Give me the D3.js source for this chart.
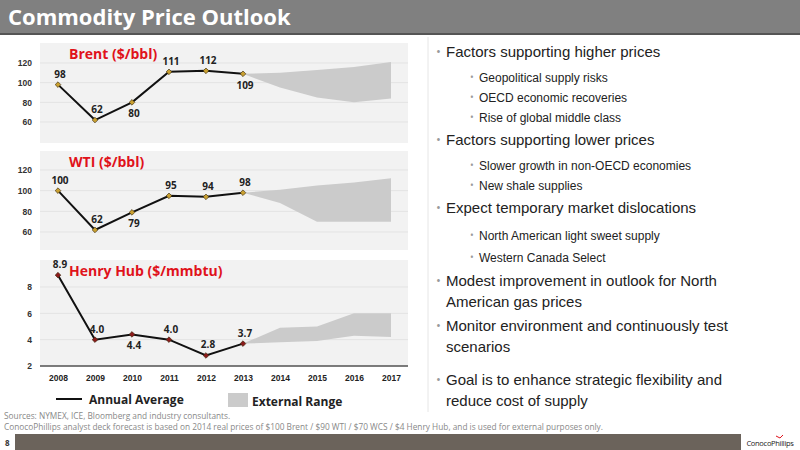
<!DOCTYPE html>
<html><head><meta charset="utf-8">
<script src="https://cdn.jsdelivr.net/npm/d3@7"></script>
<style>body{margin:0;background:#fff}svg{display:block;font-family:"Open Sans",sans-serif}</style>
</head><body>
<script>
const years = [2008, 2009, 2010, 2011, 2012, 2013, 2014, 2015, 2016, 2017];
const histYears = [2008, 2009, 2010, 2011, 2012, 2013];
const rangeYears = [2013, 2014, 2015, 2016, 2017];

const brent = [98, 62, 80, 111, 112, 109];
const brentLabelPos = ["a", "a", "b", "a", "a", "b"];
const brentHigh = [109, 110, 113, 116, 121];
const brentLow = [109, 95, 85, 80, 84];

const wti = [100, 62, 79, 95, 94, 98];
const wtiLabelPos = ["a", "a", "b", "a", "a", "a"];
const wtiHigh = [98, 101, 105, 108, 112];
const wtiLow = [98, 88, 70, 70, 70];

const hh = [8.9, 4.0, 4.4, 4.0, 2.8, 3.7];
const hhLabels = ["8.9", "4.0", "4.4", "4.0", "2.8", "3.7"];
const hhLabelPos = ["a", "a", "b", "a", "a", "a"];
const hhHigh = [3.7, 4.9, 5.0, 6.0, 6.0];
const hhLow = [3.7, 3.8, 3.9, 4.3, 4.2];

const bullets = [
  {lvl: 1, lines: ["Factors supporting higher prices"], y: 57},
  {lvl: 2, lines: ["Geopolitical supply risks"], y: 82},
  {lvl: 2, lines: ["OECD economic recoveries"], y: 102},
  {lvl: 2, lines: ["Rise of global middle class"], y: 122},
  {lvl: 1, lines: ["Factors supporting lower prices"], y: 145},
  {lvl: 2, lines: ["Slower growth in non-OECD economies"], y: 170},
  {lvl: 2, lines: ["New shale supplies"], y: 190},
  {lvl: 1, lines: ["Expect temporary market dislocations"], y: 213},
  {lvl: 2, lines: ["North American light sweet supply"], y: 240},
  {lvl: 2, lines: ["Western Canada Select"], y: 262},
  {lvl: 1, lines: ["Modest improvement in outlook for North", "American gas prices"], y: 286},
  {lvl: 1, lines: ["Monitor environment and continuously test", "scenarios"], y: 331},
  {lvl: 1, lines: ["Goal is to enhance strategic flexibility and", "reduce cost of supply"], y: 385}
];

const svg = d3.select("body").append("svg").attr("width", 800).attr("height", 450);

// header
svg.append("rect").attr("width", 800).attr("height", 33).attr("fill", "#808080");
svg.append("rect").attr("y", 33).attr("width", 800).attr("height", 2).attr("fill", "#555");
svg.append("text").attr("x", 8).attr("y", 25).attr("fill", "#fff")
  .attr("font-size", 22).attr("font-weight", "bold").text("Commodity Price Outlook");

const x = d3.scalePoint().domain(years).range([58, 391]);

function panel(top, bottom, domain, rng, ticks, hist, high, low, pos, labels, title, markColor) {
  svg.append("rect").attr("x", 40).attr("y", top).attr("width", 368).attr("height", bottom - top).attr("fill", "#f2f2f2");
  const y = d3.scaleLinear().domain(domain).range(rng);
  ticks.forEach(t => {
    svg.append("line").attr("x1", 40).attr("x2", 408).attr("y1", y(t)).attr("y2", y(t)).attr("stroke", "#e3e3e3");
  });
  const ax = svg.append("g").attr("transform", "translate(40,0)")
    .call(d3.axisLeft(y).tickValues(ticks).tickSize(0).tickPadding(8).tickFormat(d3.format("d")));
  ax.select(".domain").remove();
  ax.selectAll("text").attr("font-size", 8.5).attr("font-weight", "bold").attr("fill", "#333");
  const area = d3.area().x((d, i) => x(rangeYears[i])).y0((d, i) => y(low[i])).y1(d => y(d));
  svg.append("path").datum(high).attr("d", area).attr("fill", "#cbcbcb");
  const line = d3.line().x((d, i) => x(histYears[i])).y(d => y(d));
  svg.append("path").datum(hist).attr("d", line).attr("fill", "none").attr("stroke", "#111").attr("stroke-width", 2);
  svg.selectAll(null).data(hist).enter().append("path")
    .attr("d", d3.symbol(d3.symbolSquare, 16))
    .attr("transform", (d, i) => `translate(${x(histYears[i])},${y(d)}) rotate(45)`)
    .attr("fill", markColor).attr("stroke", "#3a2a10").attr("stroke-width", 0.6);
  svg.selectAll(null).data(hist).enter().append("text")
    .attr("x", (d, i) => x(histYears[i]) + 2)
    .attr("y", (d, i) => y(d) + (pos[i] === "a" ? -7 : 15))
    .attr("text-anchor", "middle").attr("font-size", 10).attr("font-weight", "bold").attr("fill", "#222")
    .text((d, i) => labels ? labels[i] : d);
  svg.append("text").attr("x", 69).attr("y", top + 16).attr("fill", "#e0121b")
    .attr("font-size", 14).attr("font-weight", "bold").text(title);
  return y;
}

panel(43, 143, [60, 120], [122, 63], [60, 80, 100, 120], brent, brentHigh, brentLow, brentLabelPos, null, "Brent ($/bbl)", "#c9a030");
panel(151, 250, [60, 120], [232, 170], [60, 80, 100, 120], wti, wtiHigh, wtiLow, wtiLabelPos, null, "WTI ($/bbl)", "#c9a030");
panel(260, 366, [2, 8], [366, 287], [2, 4, 6, 8], hh, hhHigh, hhLow, hhLabelPos, hhLabels, "Henry Hub ($/mmbtu)", "#8b1a1a");

// x axis for HH
svg.append("line").attr("x1", 40).attr("x2", 408).attr("y1", 366).attr("y2", 366).attr("stroke", "#555").attr("stroke-width", 1.5);
const xa = svg.append("g").attr("transform", "translate(0,366)").call(d3.axisBottom(x).tickSize(0).tickPadding(9));
xa.select(".domain").remove();
xa.selectAll("text").attr("font-size", 8.5).attr("font-weight", "bold").attr("fill", "#222");

// legend
svg.append("line").attr("x1", 56).attr("x2", 82).attr("y1", 399).attr("y2", 399).attr("stroke", "#111").attr("stroke-width", 2);
svg.append("text").attr("x", 89).attr("y", 404).attr("font-size", 12).attr("font-weight", "bold").attr("fill", "#222").text("Annual Average");
svg.append("rect").attr("x", 228).attr("y", 393).attr("width", 20).attr("height", 14).attr("fill", "#cbcbcb");
svg.append("text").attr("x", 252).attr("y", 406).attr("font-size", 12).attr("font-weight", "bold").attr("fill", "#222").text("External Range");

// right side text
svg.append("line").attr("x1", 428).attr("x2", 428).attr("y1", 37).attr("y2", 412).attr("stroke", "#e6e6e6");
bullets.forEach(b => {
  const fs = b.lvl === 1 ? 15 : 12;
  const bx = b.lvl === 1 ? 436 : 470;
  const tx = b.lvl === 1 ? 446 : 479;
  svg.append("text").attr("x", bx).attr("y", b.y - 1).attr("font-size", b.lvl === 1 ? 13 : 10).attr("fill", "#999").text("•");
  b.lines.forEach((l, i) => {
    svg.append("text").attr("x", tx).attr("y", b.y + i * 21).attr("font-size", fs).attr("fill", "#222")
      .attr("font-family", "'Liberation Sans',sans-serif").text(l);
  });
});

// sources
svg.append("text").attr("x", 4).attr("y", 419).attr("font-size", 8.3).attr("fill", "#888").text("Sources: NYMEX, ICE, Bloomberg and industry consultants.");
svg.append("text").attr("x", 4).attr("y", 430).attr("font-size", 8.3).attr("fill", "#888")
  .text("ConocoPhillips analyst deck forecast is based on 2014 real prices of $100 Brent / $90 WTI / $70 WCS / $4 Henry Hub, and is used for external purposes only.");

// footer
svg.append("rect").attr("x", 15).attr("y", 434).attr("width", 726).attr("height", 16).attr("fill", "#6b635b");
svg.append("text").attr("x", 5).attr("y", 446).attr("font-size", 8).attr("font-weight", "bold").attr("fill", "#333").text("8");
svg.append("text").attr("x", 770).attr("y", 446).attr("text-anchor", "middle").attr("font-size", 7.5).attr("fill", "#222")
  .attr("letter-spacing", -0.3).text("ConocoPhillips");
svg.append("path").attr("d", "M776,436 l4,2 l3,-3").attr("fill", "none").attr("stroke", "#e0121b").attr("stroke-width", 1);
</script>
</body></html>
